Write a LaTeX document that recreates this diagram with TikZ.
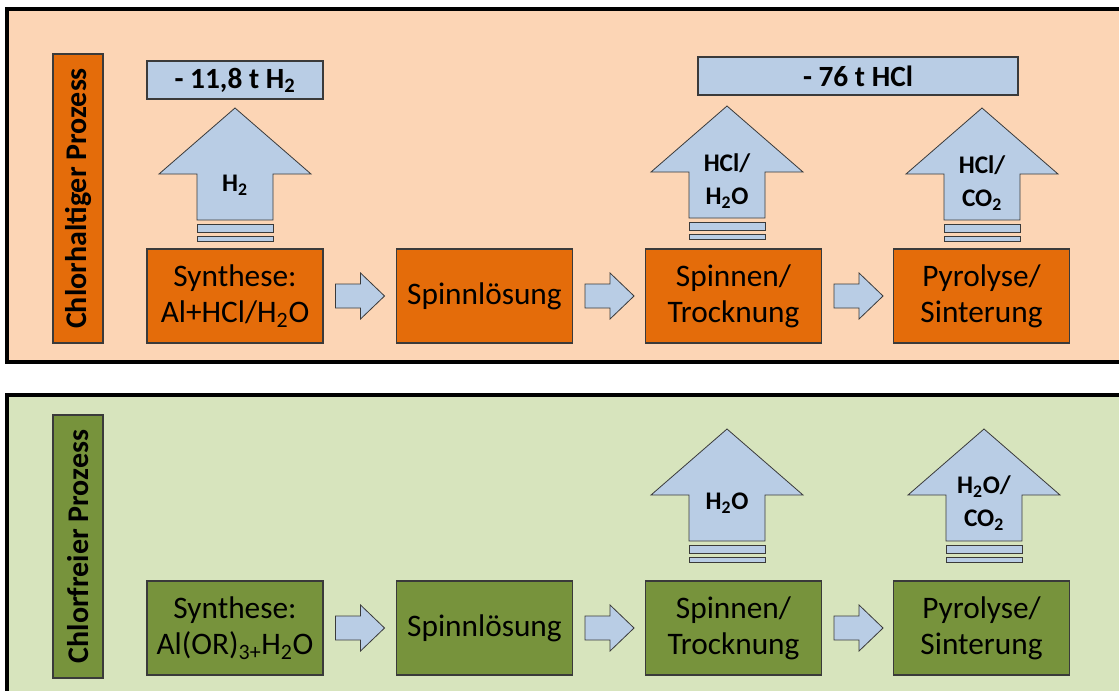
\documentclass[tikz,border=0pt]{standalone}
\usepackage{fontspec}
\setmainfont{Carlito}
\usetikzlibrary{calc}
\definecolor{topbg}{HTML}{FCD5B5}
\definecolor{orangebox}{HTML}{E46C0A}
\definecolor{bluebox}{HTML}{B9CDE5}
\definecolor{botbg}{HTML}{D7E4BD}
\definecolor{greenbox}{HTML}{77933C}
\definecolor{edge}{HTML}{3A3A3A}
\tikzset{
  panel/.style={draw=black, line width=2.3pt},
  stepbox/.style={draw=edge, line width=0.8pt, minimum width=132pt, minimum height=70.5pt,
    align=center, inner sep=0pt, font=\fontsize{23.5}{27}\selectfont},
  sidelabel/.style={draw=edge, line width=0.8pt, rotate=90, minimum height=37.5pt,
    inner sep=0pt, font=\bfseries\fontsize{22.5}{25}\selectfont},
  sumbox/.style={draw=edge, line width=0.8pt, fill=bluebox, minimum height=28.5pt,
    inner sep=0pt, font=\bfseries\fontsize{22}{24}\selectfont},
  arrowlabel/.style={align=center, inner sep=0pt, font=\bfseries\fontsize{19}{24.5}\selectfont},
  blockarr/.style={draw=edge, line width=0.6pt, fill=bluebox, line join=miter},
  bigup/.pic={
    \draw[blockarr] (0,0) -- (76,66) -- (38,66) -- (38,112) -- (-38,112) -- (-38,66) -- (-76,66) -- cycle;
    \draw[blockarr] (-38,116) rectangle (38,124);
    \draw[blockarr] (-38,128) rectangle (38,133);
  }
}
\newcommand{\flowarrow}[2]{%
  \draw[blockarr] ($(#1.east)+(12,12)$) -- ++(25,0) -- ++(0,11) -- ++(24,-23)
    -- ++(-24,-23) -- ++(0,11) -- ++(-25,0) -- cycle;}
\begin{document}
\begin{tikzpicture}[x=0.75pt, y=-0.75pt]
\useasboundingbox (0,0) rectangle (1119,690);
\clip (0,0) rectangle (1119,690);

% ---------- top panel ----------
\draw[panel, fill=topbg] (7,9) rectangle (1130,362);
\node[sidelabel, fill=orangebox, minimum width=216.75pt] (lab1) at (78,198.5) {Chlorhaltiger Prozess};

\node[stepbox, fill=orangebox] (t1) at (235,296) {Synthese:\\Al+HCl/H\textsubscript{2}O};
\node[stepbox, fill=orangebox] (t2) at (484.5,296) {Spinnlösung};
\node[stepbox, fill=orangebox] (t3) at (733.5,296) {Spinnen/\\Trocknung};
\node[stepbox, fill=orangebox] (t4) at (981.5,296) {Pyrolyse/\\Sinterung};
\flowarrow{t1}{t2}
\flowarrow{t2}{t3}
\flowarrow{t3}{t4}

\pic at (235,108) {bigup};
\pic at (727,106) {bigup};
\pic at (982,108) {bigup};
\node[arrowlabel] (ta1) at (235,185) {H\textsubscript{2}};
\node[arrowlabel] (ta3) at (727,181) {HCl/\\H\textsubscript{2}O};
\node[arrowlabel] (ta4) at (982,183) {HCl/\\CO\textsubscript{2}};

\node[sumbox, minimum width=132pt] (s1) at (235,80) {- 11,8 t H\textsubscript{2}};
\node[sumbox, minimum width=240pt] (s2) at (858,76) {- 76 t HCl};

% ---------- bottom panel ----------
\draw[panel, fill=botbg] (7,395) rectangle (1130,710);
\node[sidelabel, fill=greenbox, minimum width=197.25pt] (lab2) at (78,546.5) {Chlorfreier Prozess};

\node[stepbox, fill=greenbox] (b1) at (235,628) {Synthese:\\Al(OR)\textsubscript{3+}H\textsubscript{2}O};
\node[stepbox, fill=greenbox] (b2) at (484.5,628) {Spinnlösung};
\node[stepbox, fill=greenbox] (b3) at (733.5,628) {Spinnen/\\Trocknung};
\node[stepbox, fill=greenbox] (b4) at (981.5,628) {Pyrolyse/\\Sinterung};
\flowarrow{b1}{b2}
\flowarrow{b2}{b3}
\flowarrow{b3}{b4}

\pic at (727,429) {bigup};
\pic at (984,429) {bigup};
\node[arrowlabel] (ba3) at (727,503) {H\textsubscript{2}O};
\node[arrowlabel] (ba4) at (984,503) {H\textsubscript{2}O/\\CO\textsubscript{2}};
\end{tikzpicture}
\end{document}
